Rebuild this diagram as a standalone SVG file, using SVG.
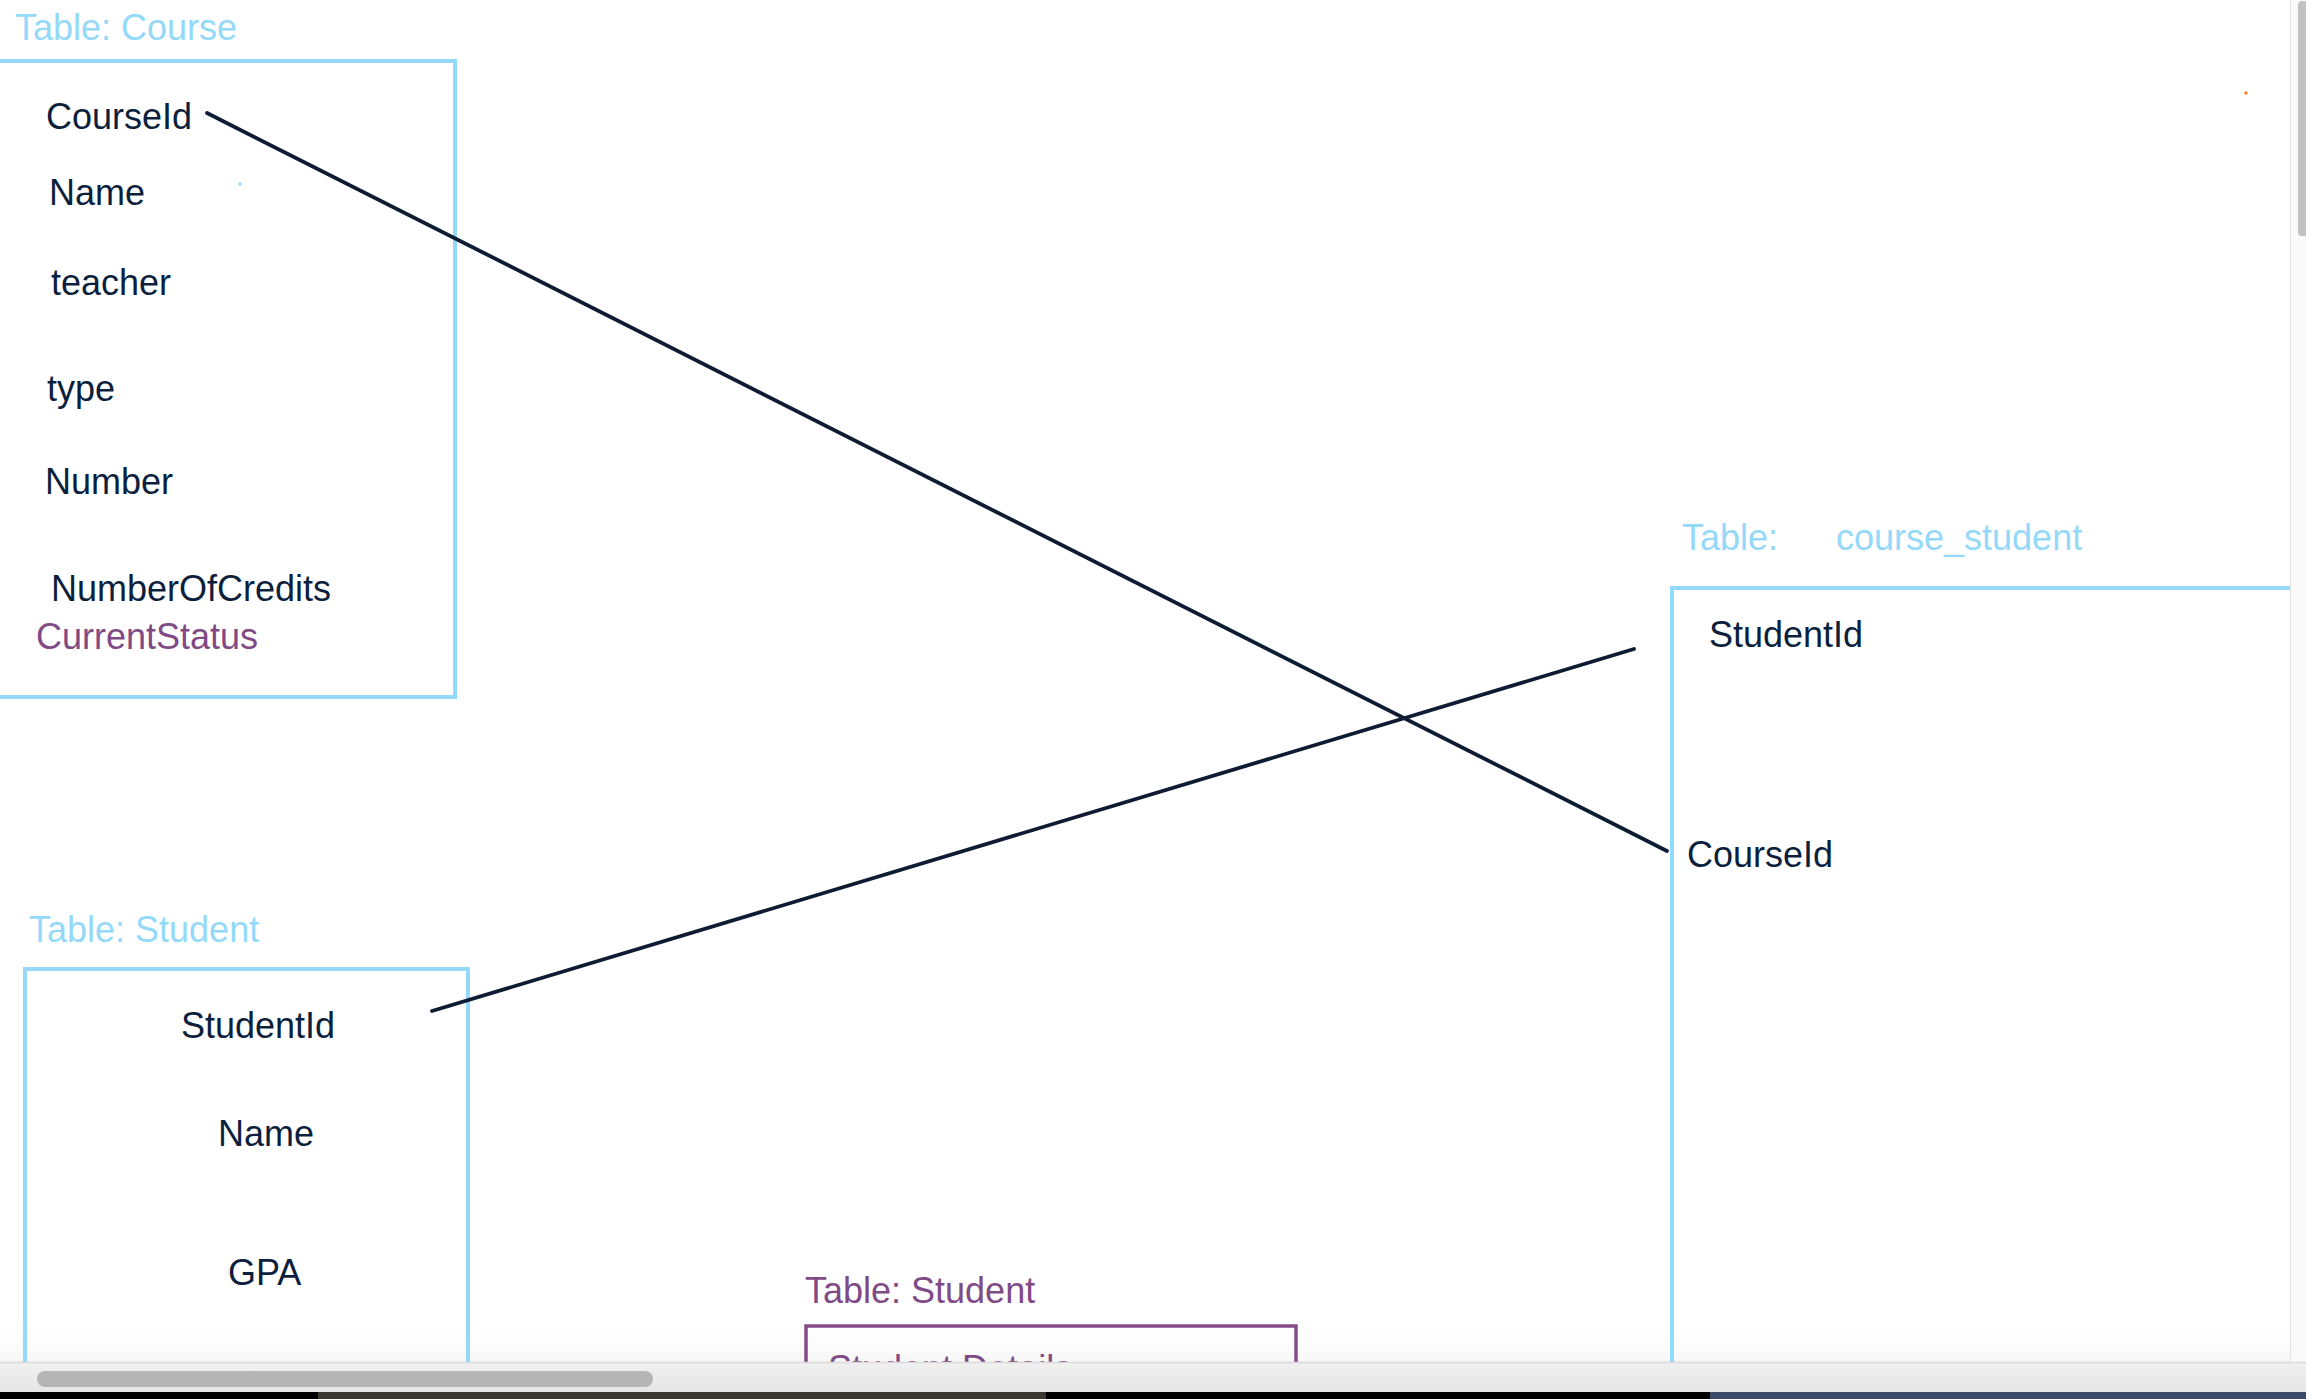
<svg xmlns="http://www.w3.org/2000/svg" width="2306" height="1399" viewBox="0 0 2306 1399">
<style>
text{font-family:"Liberation Sans",Arial,Helvetica,sans-serif;font-size:36px}
.title{fill:#94d9f9}
.field{fill:#0c1f3d}
.purple{fill:#7f4a86}
.box{fill:none;stroke:#94d9f9;stroke-width:4}
.pbox{fill:none;stroke:#864c89;stroke-width:3.5}
.conn{stroke:#0d1b33;stroke-width:3.8;stroke-linecap:round;fill:none}
</style>
<defs>
<clipPath id="content"><rect x="0" y="0" width="2290" height="1362"/></clipPath>
<linearGradient id="fade" x1="0" y1="0" x2="0" y2="1">
<stop offset="0" stop-color="#ffffff" stop-opacity="0"/>
<stop offset="1" stop-color="#f6f6f6" stop-opacity="1"/>
</linearGradient>
<linearGradient id="track" x1="0" y1="0" x2="0" y2="1">
<stop offset="0" stop-color="#f0f0f0"/>
<stop offset="1" stop-color="#e6e6e6"/>
</linearGradient>
</defs>
<rect width="2306" height="1399" fill="#ffffff"/>
<g clip-path="url(#content)">
<rect x="0" y="1320" width="2290" height="42" fill="url(#fade)"/>
<g id="course">
<text class="title" x="15" y="40">Table: Course</text>
<rect class="box" x="-10" y="61" width="465" height="636"/>
<text class="field" x="46" y="129">CourseId</text>
<text class="field" x="49" y="205">Name</text>
<text class="field" x="51" y="295">teacher</text>
<text class="field" x="47" y="401">type</text>
<text class="field" x="45" y="494">Number</text>
<text class="field" x="51" y="601">NumberOfCredits</text>
<text class="purple" x="36" y="649">CurrentStatus</text>
<circle cx="240" cy="184" r="1.8" fill="#94d9f9"/>
</g>
<g id="student">
<text class="title" x="29" y="942">Table: Student</text>
<rect class="box" x="25" y="969" width="443" height="520"/>
<text class="field" x="181" y="1038">StudentId</text>
<text class="field" x="218" y="1146">Name</text>
<text class="field" x="228" y="1285">GPA</text>
</g>
<g id="course_student">
<text class="title" x="1682" y="550">Table:</text>
<text class="title" x="1836" y="550">course_student</text>
<rect class="box" x="1672" y="588" width="700" height="900"/>
<text class="field" x="1709" y="647">StudentId</text>
<text class="field" x="1687" y="867">CourseId</text>
</g>
<g id="student_details">
<text class="purple" x="805" y="1303">Table: Student</text>
<rect class="pbox" x="806" y="1326" width="490" height="120"/>
<text class="purple" x="828" y="1381">Student Details</text>
</g>
<g id="connectors">
<line class="conn" x1="207" y1="113" x2="1667" y2="851"/>
<line class="conn" x1="432" y1="1011" x2="1634" y2="649"/>
</g>
<circle cx="2246" cy="93" r="1.8" fill="#f08a3c"/>
</g>
<rect x="2290" y="0" width="16" height="1362" fill="#fafafa"/>
<line x1="2290.5" y1="0" x2="2290.5" y2="1362" stroke="#e2e2e2" stroke-width="1"/>
<rect x="2298" y="1" width="10" height="235" rx="4" fill="#c2c2c2"/>
<rect x="0" y="1362" width="2306" height="30" fill="url(#track)"/>
<line x1="0" y1="1362.5" x2="2306" y2="1362.5" stroke="#dadada" stroke-width="1.5"/>
<rect x="37" y="1371" width="616" height="16" rx="8" fill="#b5b5b5"/>
<rect x="0" y="1392" width="2306" height="7" fill="#000000"/>
<rect x="318" y="1392" width="728" height="7" fill="#3d3732"/>
<rect x="1710" y="1392" width="596" height="7" fill="#3b4a68"/>
</svg>
